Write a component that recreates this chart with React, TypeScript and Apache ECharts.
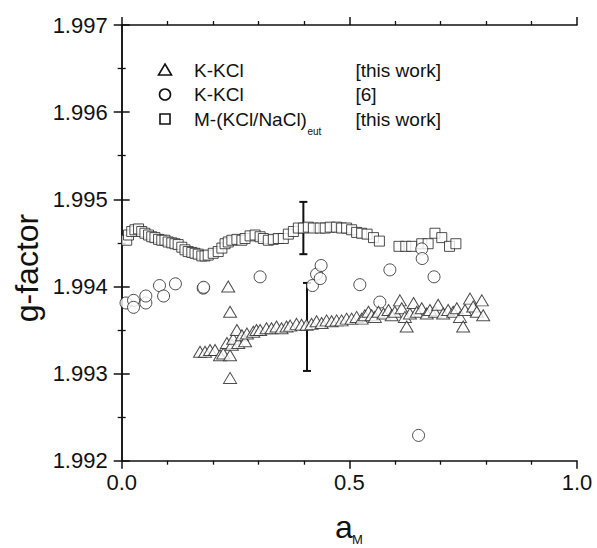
import React, { useEffect, useRef } from "react";
import * as echarts from "echarts";

const FONT = "'Liberation Sans', Arial, Helvetica, sans-serif";

const xTicks = { min: 0, max: 1, interval: 0.5 };
const yTicks = { min: 1.992, max: 1.997, interval: 0.001 };

// M-(KCl/NaCl)eut [this work] — squares
const squareData: [number, number][] = [
  [0.011, 1.99453], [0.015, 1.99459], [0.022, 1.99463], [0.029, 1.99465], [0.037, 1.99466],
  [0.044, 1.99463], [0.051, 1.99461], [0.059, 1.99459], [0.066, 1.99457], [0.073, 1.99456],
  [0.081, 1.99454], [0.088, 1.99453], [0.095, 1.99453], [0.102, 1.99451], [0.110, 1.9945],
  [0.117, 1.99449], [0.124, 1.99448], [0.132, 1.99445], [0.139, 1.99442], [0.146, 1.9944],
  [0.154, 1.99439], [0.161, 1.99438], [0.168, 1.99437], [0.176, 1.99435], [0.183, 1.99435],
  [0.190, 1.99436], [0.201, 1.99438], [0.212, 1.9944], [0.220, 1.99444], [0.227, 1.99449],
  [0.234, 1.99451], [0.242, 1.99453], [0.253, 1.99454], [0.264, 1.99453], [0.271, 1.99455],
  [0.282, 1.99458], [0.293, 1.99459], [0.304, 1.99457], [0.311, 1.99455], [0.322, 1.99453],
  [0.333, 1.99454], [0.344, 1.99455], [0.355, 1.99455], [0.366, 1.9946], [0.377, 1.99463],
  [0.388, 1.99467], [0.399, 1.99467], [0.410, 1.99468], [0.421, 1.99467], [0.436, 1.99467],
  [0.447, 1.99467], [0.458, 1.99468], [0.472, 1.99468], [0.483, 1.99467], [0.494, 1.99467],
  [0.505, 1.99465], [0.516, 1.99462], [0.527, 1.99461], [0.539, 1.9946], [0.553, 1.99456],
  [0.566, 1.99452],
  [0.609, 1.99446], [0.624, 1.99446], [0.637, 1.99446], [0.659, 1.99449], [0.673, 1.99449],
  [0.688, 1.99461], [0.703, 1.99456], [0.720, 1.99446], [0.734, 1.99449],
];

// K-KCl [6] — circles
const circleData: [number, number][] = [
  [0.0095, 1.99381], [0.026, 1.99384], [0.026, 1.99376], [0.053, 1.99381], [0.053, 1.99389],
  [0.083, 1.99401], [0.092, 1.99389], [0.118, 1.99403], [0.179, 1.99398], [0.18, 1.99399],
  [0.304, 1.99411], [0.419, 1.99401], [0.428, 1.99414], [0.438, 1.99424], [0.436, 1.99409],
  [0.523, 1.99402], [0.567, 1.99382], [0.589, 1.99419], [0.652, 1.99229], [0.659, 1.99443],
  [0.66, 1.99432], [0.686, 1.99411],
];

// K-KCl [this work] — triangles
const triangleData: [number, number][] = [
  [0.172, 1.99325], [0.183, 1.99325], [0.194, 1.99327], [0.205, 1.99327], [0.216, 1.99321],
  [0.223, 1.99323], [0.231, 1.99335], [0.238, 1.99321], [0.242, 1.99333], [0.234, 1.994],
  [0.238, 1.99371], [0.238, 1.99295], [0.245, 1.9934], [0.253, 1.9935], [0.256, 1.99335],
  [0.264, 1.99344], [0.271, 1.99337], [0.275, 1.99346], [0.289, 1.99348], [0.296, 1.9935],
  [0.304, 1.9935], [0.318, 1.99352], [0.329, 1.99352], [0.34, 1.99354], [0.351, 1.99352],
  [0.362, 1.99354], [0.37, 1.99355], [0.384, 1.99357], [0.395, 1.99356], [0.406, 1.99356],
  [0.417, 1.99357], [0.428, 1.9936], [0.439, 1.99358], [0.45, 1.99361], [0.461, 1.9936],
  [0.472, 1.99361], [0.483, 1.99361], [0.494, 1.99363], [0.505, 1.99363], [0.516, 1.99365],
  [0.527, 1.99363], [0.534, 1.99367], [0.542, 1.99371], [0.549, 1.99367], [0.556, 1.99365],
  [0.564, 1.99371], [0.575, 1.99369], [0.586, 1.99373], [0.593, 1.99367], [0.6, 1.99371],
  [0.611, 1.99384], [0.615, 1.99375], [0.622, 1.99365], [0.626, 1.99354], [0.633, 1.99369],
  [0.641, 1.99381], [0.648, 1.99371], [0.659, 1.99375], [0.67, 1.99369], [0.677, 1.99373],
  [0.688, 1.99371], [0.695, 1.99379], [0.706, 1.99369], [0.717, 1.99373], [0.728, 1.99371],
  [0.736, 1.99375], [0.743, 1.99365], [0.75, 1.99354], [0.754, 1.99373], [0.765, 1.99386],
  [0.772, 1.99377], [0.78, 1.99371], [0.791, 1.99384], [0.794, 1.99367],
];

// error bars: [x, low, high]
const errorBars: [number, number, number][] = [
  [0.399, 1.99437, 1.99497],
  [0.407, 1.99303, 1.99404],
];

const legendRows = [
  { name: "K-KCl", ref: "[this work]" },
  { name: "K-KCl", ref: "[6]" },
  { name: "M-(KCl/NaCl)", sub: "eut", ref: "[this work]" },
];

export default function App() {
  const ref = useRef<HTMLDivElement>(null);
  useEffect(() => {
    if (!ref.current) return;
    const chart = echarts.init(ref.current, undefined, { renderer: "svg" });
    const axisLine = { show: true, lineStyle: { color: "#111", width: 1.5 } };
    const tick = { show: true, length: 8, lineStyle: { color: "#111", width: 1.5 } };
    const minor = (n: number) => ({ show: true, splitNumber: n, length: 4, lineStyle: { color: "#111", width: 1.3 } });
    const markerStyle = { color: "#fff", borderColor: "#222", borderWidth: 1 };
    const lgY = [70, 94.5, 119];
    const option: any = {
      animation: false,
      backgroundColor: "#fff",
      grid: { left: 121.7, right: 20, top: 25, bottom: 87.3, outerBoundsMode: "none" },
      xAxis: [
        {
          type: "value", position: "bottom", ...xTicks,
          axisLine, axisTick: tick, minorTick: minor(5), splitLine: { show: false }, minorSplitLine: { show: false },
          axisLabel: { margin: 11, fontSize: 22, color: "#111", fontFamily: FONT, formatter: (v: number) => v.toFixed(1) },
        },
        {
          type: "value", position: "top", ...xTicks,
          axisLine, axisTick: tick, minorTick: minor(5), splitLine: { show: false },
          axisLabel: { show: false },
        },
      ],
      yAxis: [
        {
          type: "value", position: "left", ...yTicks,
          axisLine, axisTick: tick, minorTick: minor(2), splitLine: { show: false }, minorSplitLine: { show: false },
          axisLabel: { margin: 14, fontSize: 22, color: "#111", fontFamily: FONT, formatter: (v: number) => v.toFixed(3) },
        },
        {
          type: "value", position: "right", ...yTicks,
          axisLine, axisTick: tick, minorTick: minor(2), splitLine: { show: false },
          axisLabel: { show: false },
        },
      ],
      series: [
        {
          type: "custom",
          name: "error",
          data: errorBars,
          renderItem: (params: any, api: any) => {
            const x = api.value(0);
            const lo = api.coord([x, api.value(1)]);
            const hi = api.coord([x, api.value(2)]);
            const w = 4;
            const style = { stroke: "#111", lineWidth: 2 };
            return {
              type: "group",
              children: [
                { type: "line", shape: { x1: lo[0], y1: lo[1], x2: hi[0], y2: hi[1] }, style },
                { type: "line", shape: { x1: lo[0] - w, y1: lo[1], x2: lo[0] + w, y2: lo[1] }, style },
                { type: "line", shape: { x1: hi[0] - w, y1: hi[1], x2: hi[0] + w, y2: hi[1] }, style },
              ],
            };
          },
          z: 1,
        },
        { type: "scatter", name: "M-(KCl/NaCl)eut", data: squareData, symbol: "rect", symbolSize: 10, itemStyle: markerStyle, z: 2 },
        { type: "scatter", name: "K-KCl [6]", data: circleData, symbol: "circle", symbolSize: 12, itemStyle: markerStyle, z: 3 },
        { type: "scatter", name: "K-KCl", data: triangleData, symbol: "triangle", symbolSize: [13, 11], itemStyle: markerStyle, z: 4 },
      ],
      graphic: [
        { type: "polygon", shape: { points: [[165, 64], [171.5, 75], [158.5, 75]] }, style: { fill: "#fff", stroke: "#111", lineWidth: 1.6 } },
        { type: "circle", shape: { cx: 165, cy: lgY[1], r: 5.5 }, style: { fill: "#fff", stroke: "#111", lineWidth: 1.6 } },
        { type: "rect", shape: { x: 160, y: lgY[2] - 5, width: 10, height: 10 }, style: { fill: "#fff", stroke: "#111", lineWidth: 1.6 } },
        ...legendRows.flatMap((r, i) => {
          const els: any[] = [
            { type: "text", x: 194, y: lgY[i], style: { text: r.name, fontSize: 19, fontFamily: FONT, fill: "#111", verticalAlign: "middle", align: "left" } },
            { type: "text", x: 355.5, y: lgY[i], style: { text: r.ref, fontSize: 19, fontFamily: FONT, fill: "#111", verticalAlign: "middle", align: "left" } },
          ];
          if (r.sub) {
            els.push({ type: "text", x: 307.5, y: lgY[i] + 12, style: { text: r.sub, fontSize: 10, fontFamily: FONT, fill: "#111", verticalAlign: "middle", align: "left" } });
          }
          return els;
        }),
        { type: "text", x: 27, y: 268, rotation: Math.PI / 2, style: { text: "g-factor", fontSize: 32, fontFamily: FONT, fill: "#111", align: "center", verticalAlign: "middle" } },
        { type: "text", x: 335, y: 527, style: { text: "a", fontSize: 32, fontFamily: FONT, fill: "#111", align: "left", verticalAlign: "middle" } },
        { type: "text", x: 352, y: 539, style: { text: "M", fontSize: 13, fontFamily: FONT, fill: "#111", align: "left", verticalAlign: "middle" } },
      ],
    };
    chart.setOption(option);
    return () => chart.dispose();
  }, []);
  return <div ref={ref} style={{ position: "fixed", left: 0, top: 0, width: 597, height: 548, background: "#fff" }} />;
}
